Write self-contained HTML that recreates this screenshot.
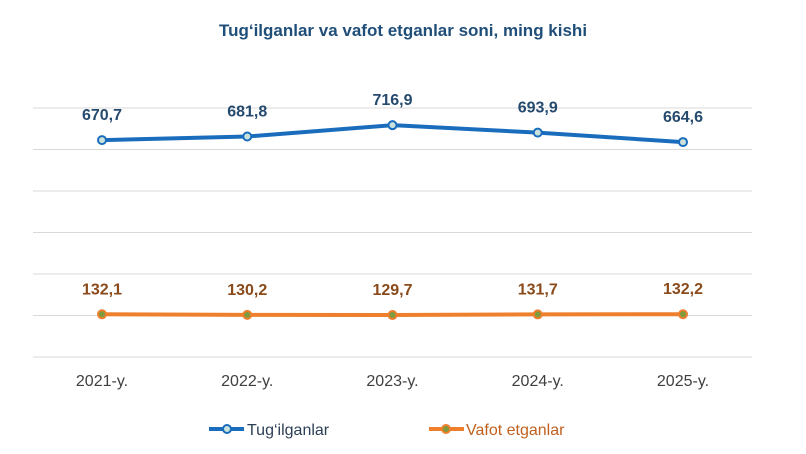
<!DOCTYPE html>
<html><head><meta charset="utf-8"><style>
body{margin:0;background:#fff;}
svg{display:block;font-family:"Liberation Sans",Arial,sans-serif;}
</style></head><body>
<svg id="chart" width="806" height="454">
<text x="403" y="36" text-anchor="middle" font-size="17" font-weight="bold" fill="#1f4e79">Tug‘ilganlar va vafot etganlar soni, ming kishi</text>
<g id="grid"></g><g id="xlabels"></g><g id="series"></g>
<g>
<g>
<line x1="209" y1="429" x2="244" y2="429" stroke="#1a6dbd" stroke-width="4"/>
<circle cx="227" cy="429" r="4" fill="#c9e2dc" stroke="#1a6dbd" stroke-width="2"/>
<text x="247" y="435" font-size="16" fill="#2b3f55">Tug‘ilganlar</text></g>
<g>
<line x1="429" y1="429" x2="464" y2="429" stroke="#ee7f2d" stroke-width="4"/>
<circle cx="446" cy="429" r="4" fill="#7f9a3c" stroke="#ee7f2d" stroke-width="2"/>
<text x="466" y="435" font-size="16" fill="#c0601f">Vafot etganlar</text></g>
</g>
</svg>
<script>
const categories=["2021-y.","2022-y.","2023-y.","2024-y.","2025-y."];
const births=[670.7,681.8,716.9,693.9,664.6];
const deaths=[132.1,130.2,129.7,131.7,132.2];
const NS="http://www.w3.org/2000/svg";
const yMax=770, yTop=108, yBottom=357, xLeft=33, xRight=752;
const y=v=>yBottom-(v/yMax)*(yBottom-yTop);
const x=i=>102+i*145.25;
const fmt=v=>v.toFixed(1).replace('.',',');
function mk(tag,attrs,parent){const e=document.createElementNS(NS,tag);for(const k in attrs)e.setAttribute(k,attrs[k]);parent.appendChild(e);return e;}
const grid=document.getElementById('grid');
for(let i=0;i<=6;i++){const gy=yTop+i*(yBottom-yTop)/6;
const l=mk('line',{x1:xLeft,x2:xRight,y1:gy,y2:gy,stroke:'#d9d9d9','stroke-width':1},grid);

}
const xl=document.getElementById('xlabels');
categories.forEach((c,i)=>{const t=mk('text',{x:x(i),y:386,'text-anchor':'middle','font-size':16,fill:'#404040'},xl);t.textContent=c;

});
const sg=document.getElementById('series');
function series(vals,color,fill,lblColor,name){
const g=mk('g',{},sg);


const p=mk('polyline',{points:vals.map((v,i)=>x(i)+','+y(v)).join(' '),fill:'none',stroke:color,'stroke-width':4,'stroke-linejoin':'round'},g);


vals.forEach((v,i)=>{
const c=mk('circle',{cx:x(i),cy:y(v),r:4,fill:fill,stroke:color,'stroke-width':2},g);


const t=mk('text',{x:x(i),y:y(v)-20,'text-anchor':'middle','font-size':16,'font-weight':'bold',fill:lblColor},g);
t.textContent=fmt(v);

});}
series(births,'#1a6dbd','#c9e2dc','#264a6e','births');
series(deaths,'#ee7f2d','#7f9a3c','#8a4a1a','deaths');
</script>
</body></html>
